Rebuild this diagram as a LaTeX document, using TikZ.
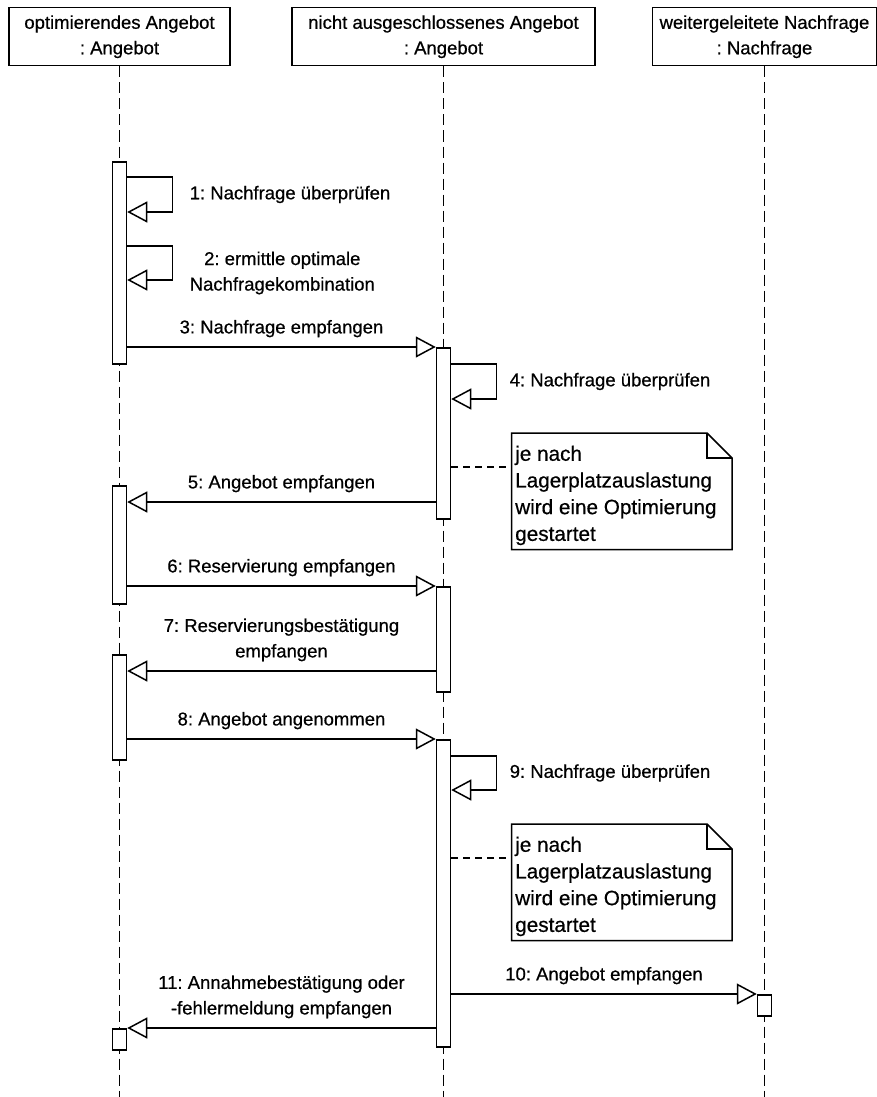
\documentclass[tikz,border=0pt]{standalone}
\usepackage{fontspec}
\setmainfont{Liberation Sans}[FakeBold=0.6]
\usetikzlibrary{arrows.meta}
\frenchspacing
\begin{document}
\begin{tikzpicture}[x=1pt, y=-1pt,
  font=\fontsize{18.5}{25.5}\selectfont,
  line width=1.5pt,
  header/.style={draw, minimum height=58pt, align=center, inner sep=0pt, anchor=north},
  life/.style={dash pattern=on 11pt off 5pt},
  bar/.style={draw, fill=white, minimum width=14pt, inner sep=0pt, anchor=north},
  msg/.style={-{Triangle[open, length=20pt, width=21pt]}},
  lbl/.style={above=9pt, inner sep=0pt, align=center},
  selflbl/.style={anchor=west, inner sep=0pt, align=center},
  noteframe/.style={anchor=north west, minimum width=219pt, minimum height=115pt, inner sep=0pt},
  notetext/.style={anchor=north west, inner sep=0pt, align=left,
    font=\fontsize{20.7}{26.7}\selectfont},
  notelink/.style={dash pattern=on 7pt off 5pt}
]
\useasboundingbox (0,0) rectangle (877,1097);
\coordinate (bottom) at (0,1097);

% object headers
\node[header, minimum width=221pt] (h1) at (119.5,7) {optimierendes Angebot\\: Angebot};
\node[header, minimum width=303pt] (h2) at (443.5,7) {nicht ausgeschlossenes Angebot\\: Angebot};
\node[header, minimum width=224pt] (h3) at (764.5,7) {weitergeleitete Nachfrage\\: Nachfrage};

% lifelines
\foreach \h in {h1,h2,h3} \draw[life] (\h.south) -- (\h.south |- bottom);

% activation bars
\node[bar, minimum height=202pt] (a1) at (119.5,161) {};
\node[bar, minimum height=171pt] (b1) at (443.5,347) {};
\node[bar, minimum height=118pt] (a2) at (119.5,485) {};
\node[bar, minimum height=105pt] (b2) at (443.5,586) {};
\node[bar, minimum height=105pt] (a3) at (119.5,654) {};
\node[bar, minimum height=307pt] (b3) at (443.5,739) {};
\node[bar, minimum height=21pt] (c1) at (764.5,994) {};
\node[bar, minimum height=21pt] (a4) at (119.5,1028) {};

% message heights
\coordinate (l1a) at (0,177);  \coordinate (l1b) at (0,212);
\coordinate (l2a) at (0,246);  \coordinate (l2b) at (0,280);
\coordinate (l4a) at (0,364);  \coordinate (l4b) at (0,399);
\coordinate (m5)  at (0,502);
\coordinate (m7)  at (0,671);
\coordinate (l9a) at (0,756);  \coordinate (l9b) at (0,790);
\coordinate (m11) at (0,1028);

% self messages
\draw[msg] (a1.east |- l1a) -- ++(45,0) |- (a1.east |- l1b);
\node[selflbl] (t1) at (189,194.5) {1: Nachfrage überprüfen};
\draw[msg] (a1.east |- l2a) -- ++(45,0) |- (a1.east |- l2b);
\node[selflbl] (t2) at (189,273) {2: ermittle optimale\\Nachfragekombination};
\draw[msg] (b1.east |- l4a) -- ++(45,0) |- (b1.east |- l4b);
\node[selflbl] (t4) at (509,381.5) {4: Nachfrage überprüfen};
\draw[msg] (b3.east |- l9a) -- ++(45,0) |- (b3.east |- l9b);
\node[selflbl] (t9) at (509,773) {9: Nachfrage überprüfen};

% messages between objects
\draw[msg] (a1.east |- b1.north) -- node[lbl] {3: Nachfrage empfangen} (b1.north west);
\draw[msg] (b1.west |- m5) -- node[lbl] {5: Angebot empfangen} (a2.east |- m5);
\draw[msg] (a2.east |- b2.north) -- node[lbl] {6: Reservierung empfangen} (b2.north west);
\draw[msg] (b2.west |- m7) -- node[lbl] {7: Reservierungsbestätigung\\empfangen} (a3.east |- m7);
\draw[msg] (a3.east |- b3.north) -- node[lbl] {8: Angebot angenommen} (b3.north west);
\draw[msg] (b3.east |- c1.north) -- node[lbl] {10: Angebot empfangen} (c1.north west);
\draw[msg] (b3.west |- m11) -- node[lbl] {11: Annahmebestätigung oder\\-fehlermeldung empfangen} (a4.north east);

% notes with folded corner
\foreach \n/\y in {n1/433, n2/824} {
  \node[noteframe] (\n) at (511.5,\y) {};
  \draw[fill=white] (\n.north west) -- ([xshift=-25pt]\n.north east)
    -- ([yshift=-25pt]\n.north east) -- (\n.south east) -- (\n.south west) -- cycle;
  \draw ([xshift=-25pt]\n.north east) |- ([yshift=-25pt]\n.north east);
  \node[notetext] (\n t) at ([xshift=3pt,yshift=-12pt]\n.north west)
    {je nach\\Lagerplatzauslastung\\wird eine Optimierung\\gestartet};
}
\coordinate (d1) at (0,467);
\coordinate (d2) at (0,858);
\draw[notelink] (b1.east |- d1) -- (n1.west |- d1);
\draw[notelink] (b3.east |- d2) -- (n2.west |- d2);
\end{tikzpicture}
\end{document}
